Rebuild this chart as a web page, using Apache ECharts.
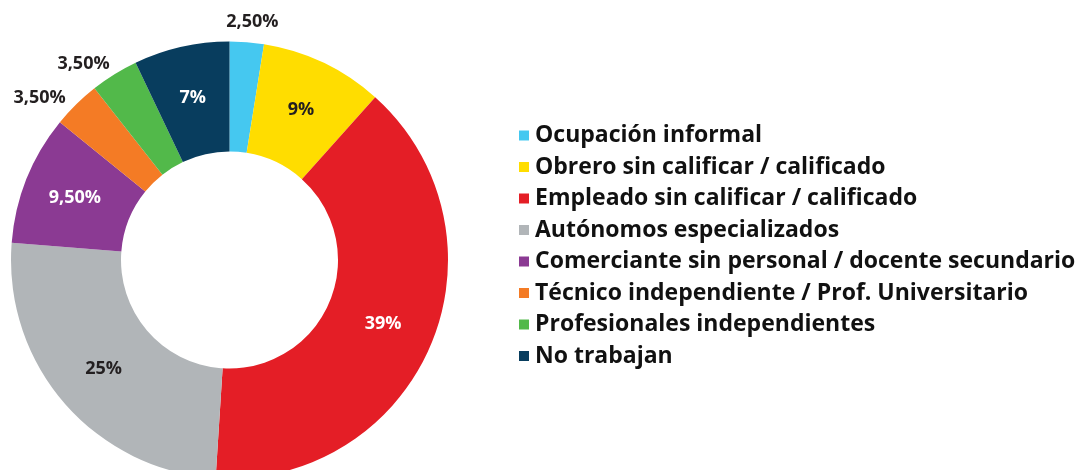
<!DOCTYPE html>
<html>
<head>
<meta charset="utf-8">
<script src="https://cdn.jsdelivr.net/npm/echarts@6/dist/echarts.min.js"></script>
<style>
	html,body{margin:0;padding:0;background:#fff;}
	#main{width:1079px;height:470px;}
</style>
</head>
<body>
<div id="main"></div>
<script>
	var categories=[
		'Ocupación informal',
		'Obrero sin calificar / calificado',
		'Empleado sin calificar / calificado',
		'Autónomos especializados',
		'Comerciante sin personal / docente secundario',
		'Técnico independiente / Prof. Universitario',
		'Profesionales independientes',
		'No trabajan'
	];
	var values=[2.5,9,39,25,9.5,3.5,3.5,7];
	var labelTexts=['2,50%','9%','39%','25%','9,50%','3,50%','3,50%','7%'];
	var colors=['#45c8f0','#ffdd00','#e41e26','#b1b5b8','#8b3a93','#f47b25','#52b94a','#083d5e'];
	// which labels sit outside the ring, and text colour of the inside ones
	var outsideLabel=[true,false,false,false,false,true,true,false];
	var labelColors=['#231f20','#231f20','#ffffff','#231f20','#ffffff','#231f20','#231f20','#ffffff'];

	var pieData=[];
	for(var i=0;i<categories.length;i++)
	{
		var item={
			name:categories[i],
			value:values[i],
			itemStyle:{color:colors[i]},
			label:{
				formatter:labelTexts[i],
				position:outsideLabel[i]?'outside':'inside',
				color:labelColors[i]
			}
		};
		pieData.push(item);
	}

	var myChart=echarts.init(document.getElementById('main'));
	var option={
		animation:false,
		legend:{
			orient:'vertical',
			left:514,
			top:119,
			icon:'rect',
			itemWidth:10,
			itemHeight:10,
			itemGap:8.5,
			textStyle:{
				fontFamily:'Open Sans',
				fontWeight:'bold',
				fontSize:23,
				color:'#111111',
				padding:[0,0,0,1]
			},
			data:categories
		},
		series:[
		{
			type:'pie',
			center:[229.5,260],
			radius:[108.5,218.5],
			startAngle:90,
			clockwise:true,
			avoidLabelOverlap:false,
			label:{
				fontFamily:'Open Sans',
				fontWeight:'bold',
				fontSize:18
			},
			labelLine:{
				show:false,
				length:5,
				length2:0
			},
			labelLayout:function(p){
				if(p.dataIndex===0) return {dx:-26,dy:-15};
				if(p.dataIndex===6) return {dx:3,dy:-6};
				if(p.dataIndex===5) return {dx:-2,dy:-3};
				return {};
			},
			emphasis:{disabled:true},
			data:pieData
		}]
	};
	myChart.setOption(option);
</script>
</body>
</html>
